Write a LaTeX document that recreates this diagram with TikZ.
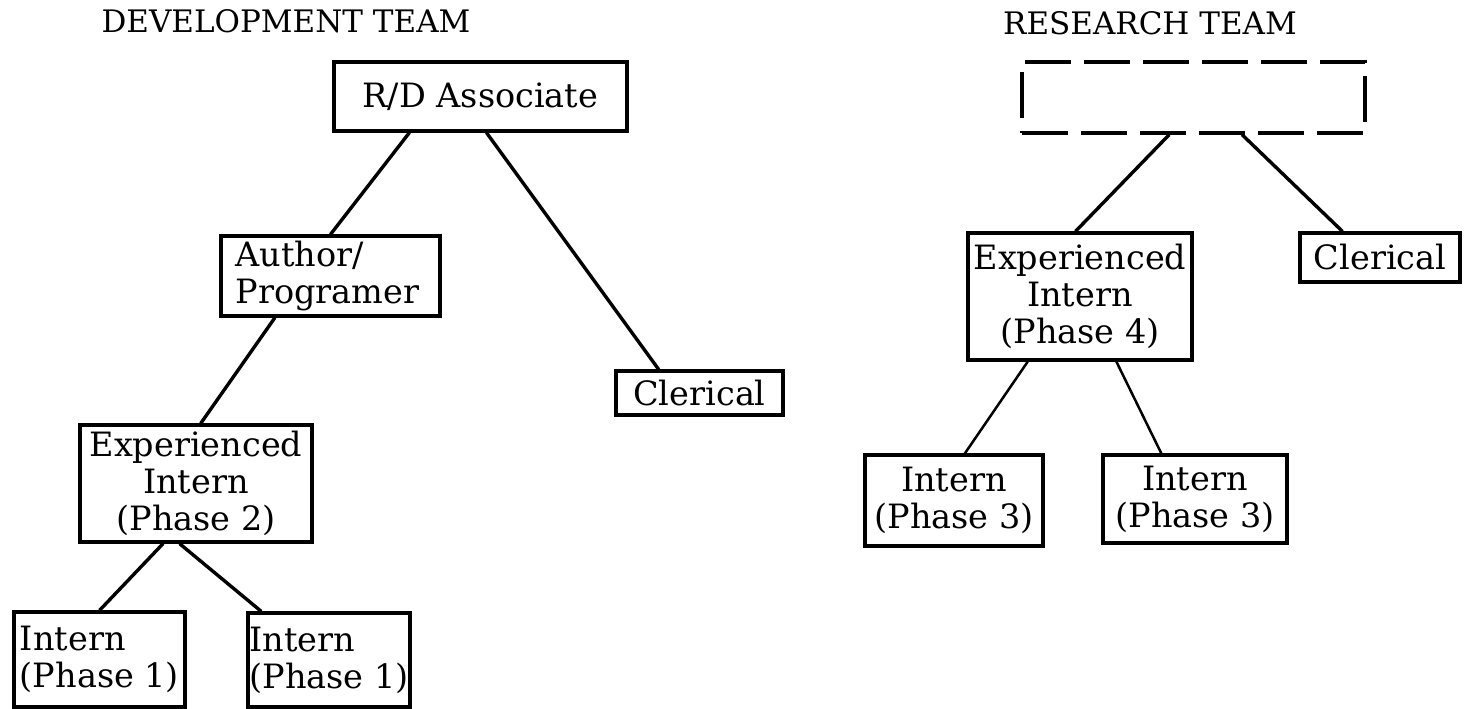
\documentclass[tikz,border=0pt]{standalone}
\usepackage{fontspec}
\setmainfont{DejaVu Serif}
\usetikzlibrary{calc}
\begin{document}
\begin{tikzpicture}[x=1pt,y=-1pt,
  orgbox/.style={draw, line width=3.2pt, inner sep=0pt, font=\fontsize{33.5}{37}\selectfont},
  dashbox/.style={draw, line width=3.2pt, dash pattern=on 46pt off 13pt, inner sep=0pt},
  title/.style={font=\fontsize{31}{34}\selectfont},
  link/.style={line width=3.4pt},
  thin link/.style={line width=2.5pt}]
\useasboundingbox (0,0) rectangle (1464,709);

\node[title] (devtitle) at (286,21) {DEVELOPMENT TEAM};
\node[title] (restitle) at (1150,23) {RESEARCH TEAM};

% development team
\node[orgbox, minimum width=293pt, minimum height=69pt] (rd) at (480.5,96.5) {R/D Associate};
\node[orgbox, minimum width=219pt, minimum height=80pt, align=left, text width=190pt] (author) at (330.5,276) {Author/\\Programer};
\node[orgbox, minimum width=167pt, minimum height=44pt] (cler1) at (699.5,393) {Clerical};
\node[orgbox, minimum width=232pt, minimum height=117pt, align=center] (exp2) at (196,483.5) {Experienced\\Intern\\(Phase 2)};
\node[orgbox, minimum width=171pt, minimum height=95pt, align=left] (int1a) at (99.5,659.5) {Intern\\(Phase 1)};
\node[orgbox, minimum width=162pt, minimum height=94pt, align=left] (int1b) at (329,660) {Intern\\(Phase 1)};

% research team
\node[dashbox, minimum width=343pt, minimum height=71pt] (lead) at (1193.5,97.5) {};
\node[orgbox, minimum width=224pt, minimum height=127pt, align=center] (exp4) at (1080,296.5) {Experienced\\Intern\\(Phase 4)};
\node[orgbox, minimum width=160pt, minimum height=49pt] (cler2) at (1380,257.5) {Clerical};
\node[orgbox, minimum width=178pt, minimum height=91pt, align=center] (int3a) at (954,500.5) {Intern\\(Phase 3)};
\node[orgbox, minimum width=184pt, minimum height=88pt, align=center] (int3b) at (1195,499) {Intern\\(Phase 3)};

% connectors
\draw[link] ($(rd.south west)!0.26!(rd.south east)$) -- (author.north);
\draw[link] ($(rd.south west)!0.52!(rd.south east)$) -- ($(cler1.north west)!0.26!(cler1.north east)$);
\draw[link] ($(author.south west)!0.25!(author.south east)$) -- ($(exp2.north west)!0.52!(exp2.north east)$);
\draw[link] ($(exp2.south west)!0.36!(exp2.south east)$) -- (int1a.north);
\draw[link] ($(exp2.south west)!0.43!(exp2.south east)$) -- ($(int1b.north west)!0.09!(int1b.north east)$);
\draw[link] ($(lead.south west)!0.43!(lead.south east)$) -- ($(exp4.north west)!0.48!(exp4.north east)$);
\draw[link] ($(lead.south west)!0.64!(lead.south east)$) -- ($(cler2.north west)!0.27!(cler2.north east)$);
\draw[thin link] ($(exp4.south west)!0.27!(exp4.south east)$) -- ($(int3a.north west)!0.56!(int3a.north east)$);
\draw[thin link] ($(exp4.south west)!0.66!(exp4.south east)$) -- ($(int3b.north west)!0.32!(int3b.north east)$);
\end{tikzpicture}
\end{document}
